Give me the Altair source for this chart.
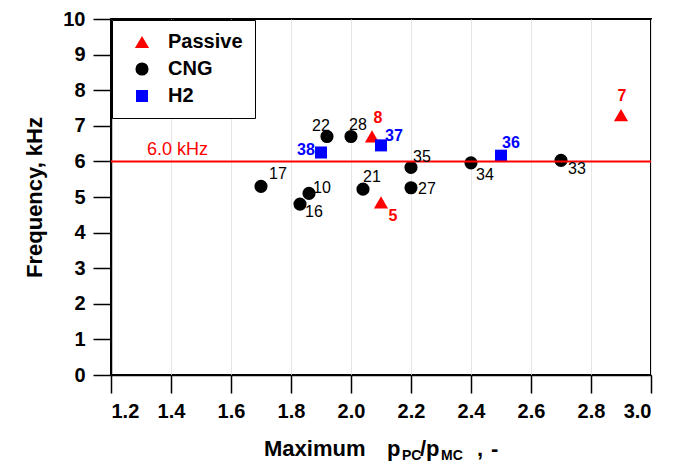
import altair as alt
import pandas as pd

# ---- data ----
groups = ["Passive", "CNG", "H2"]
group_colors = ["#ff0000", "#000000", "#0000ff"]
group_shapes = ["triangle-up", "circle", "square"]

passive_ids = ["8", "5", "7"]
passive_x = [2.07, 2.10, 2.90]
passive_y = [6.70, 4.85, 7.30]

cng_ids = ["22", "28", "35", "34", "17", "10", "16", "21", "27", "33"]
cng_x = [1.92, 2.00, 2.20, 2.40, 1.70, 1.86, 1.83, 2.04, 2.20, 2.70]
cng_y = [6.70, 6.70, 5.83, 5.96, 5.30, 5.10, 4.80, 5.22, 5.26, 6.03]

h2_ids = ["38", "37", "36"]
h2_x = [1.90, 2.10, 2.50]
h2_y = [6.25, 6.45, 6.16]

threshold = 6.0
threshold_label = "6.0 kHz"
x_ticks = [1.2, 1.4, 1.6, 1.8, 2.0, 2.2, 2.4, 2.6, 2.8, 3.0]
y_ticks = list(range(0, 11))

# label placement (pixel offsets of each point label)
label_offsets = {
    "8": (6, -18), "5": (12, 14), "7": (1, -19),
    "22": (-6, -10), "28": (7, -11), "35": (11, -10), "34": (14, 12),
    "17": (17, -12), "10": (13, -5), "16": (14, 8), "21": (9, -12),
    "27": (16, 1), "33": (16, 9),
    "38": (-15, -3), "37": (13, -9), "36": (10, -13),
}

rows = []
for g, ids, xs, ys in [("Passive", passive_ids, passive_x, passive_y),
                       ("CNG", cng_ids, cng_x, cng_y),
                       ("H2", h2_ids, h2_x, h2_y)]:
    for i, x, y in zip(ids, xs, ys):
        rows.append({"group": g, "id": i, "x": x, "y": y})
df = pd.DataFrame(rows)

FONT = "Liberation Sans"
W, H = 540, 356

xscale = alt.Scale(domain=[1.2, 3.0], nice=False, zero=False)
yscale = alt.Scale(domain=[0, 10], nice=False)

x_axis = alt.Axis(values=x_ticks, format=".1f", title=None, grid=True,
                  gridColor="#e6e6e6", gridWidth=1)
y_axis = alt.Axis(values=y_ticks, format="d", title="Frequency, kHz",
                  grid=False, titlePadding=16, labelOverlap=False)


def xe():
    return alt.X("x:Q", scale=xscale, axis=x_axis)


def ye():
    return alt.Y("y:Q", scale=yscale, axis=y_axis)


points = alt.Chart(df).mark_point(filled=True, opacity=1).encode(
    x=xe(), y=ye(),
    color=alt.Color("group:N", scale=alt.Scale(domain=groups, range=group_colors),
                    legend=alt.Legend(title=None)),
    shape=alt.Shape("group:N", scale=alt.Scale(domain=groups, range=group_shapes),
                    legend=alt.Legend(title=None)),
    size=alt.Size("group:N", scale=alt.Scale(domain=groups, range=[200, 145, 130]),
                  legend=alt.Legend(title=None)),
)

rule = alt.Chart(pd.DataFrame({"y": [threshold]})).mark_rule(
    color="#ff0000", strokeWidth=2).encode(y=ye())

rule_text = alt.Chart(pd.DataFrame({"x": [1.32], "y": [threshold], "t": [threshold_label]})).mark_text(
    align="left", baseline="alphabetic", dy=-6, font=FONT, fontSize=18, color="#ff0000"
).encode(x=xe(), y=ye(), text="t:N")

label_layers = []
for g, col in zip(groups, group_colors):
    for i in df[df.group == g]["id"]:
        dx, dy = label_offsets[i]
        label_layers.append(
            alt.Chart(df[df.id == i]).mark_text(
                dx=dx, dy=dy, align="center", baseline="middle", font=FONT,
                fontSize=16, color=col,
                fontWeight="bold" if g != "CNG" else "normal"
            ).encode(x=xe(), y=ye(), text="id:N")
        )

# x-axis title with subscripts
title_pieces = [
    ("Maximum", 153, 22, 0),
    ("p", 276, 22, 0),
    ("PC", 291, 14, 4),
    ("/p", 309, 22, 0),
    ("MC", 330, 14, 4),
    (",", 366, 22, 0),
    ("-", 380, 22, 0),
]
title_layers = []
for txt, px, fs, off in title_pieces:
    title_layers.append(
        alt.Chart(pd.DataFrame({"t": [txt]})).mark_text(
            align="left", baseline="alphabetic", font=FONT, fontSize=fs,
            fontWeight="bold", color="black"
        ).encode(x=alt.value(px), y=alt.value(437 + off), text="t:N")
    )

chart = alt.layer(points, rule, rule_text, *label_layers, *title_layers).properties(
    width=W, height=H,
    padding={"left": 103, "top": 11, "right": 12, "bottom": 93},
    autosize=alt.AutoSizeParams(type="none"),
).configure_view(
    stroke="black", strokeWidth=2
).configure_axis(
    domainColor="black", domainWidth=1.5, tickColor="black", tickWidth=1.5,
    tickSize=18, labelFont=FONT, labelFontSize=20, labelFontWeight="bold",
    labelColor="black", labelPadding=8, titleFont=FONT, titleFontSize=22,
    titleFontWeight="bold", titleColor="black"
).configure_legend(
    orient="top-left", offset=1, padding=12, strokeColor="black", fillColor="white",
    labelFont=FONT, labelFontSize=20, labelFontWeight="bold", labelColor="black",
    rowPadding=7, labelOffset=16, symbolOffset=8, symbolStrokeWidth=0, cornerRadius=0
)

chart.save("out.html", embed_options={"renderer": "svg", "actions": False})
